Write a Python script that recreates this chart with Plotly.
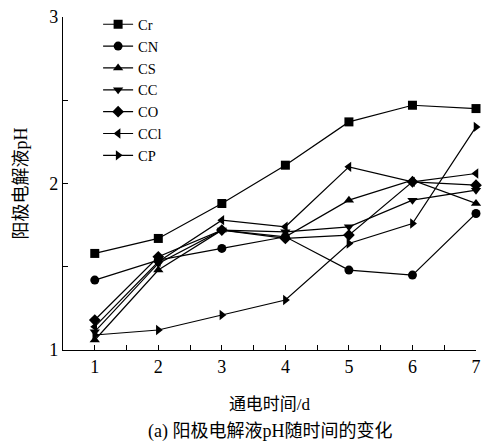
import plotly.graph_objects as go

days = [1, 2, 3, 4, 5, 6, 7]
series_names = ["Cr", "CN", "CS", "CC", "CO", "CCl", "CP"]
cr = [1.58, 1.67, 1.88, 2.11, 2.37, 2.47, 2.45]
cn = [1.42, 1.54, 1.61, 1.68, 1.48, 1.45, 1.82]
cs = [1.06, 1.48, 1.72, 1.68, 1.90, 2.02, 1.88]
cc = [1.11, 1.52, 1.72, 1.71, 1.74, 1.90, 1.96]
co = [1.18, 1.56, 1.72, 1.67, 1.69, 2.01, 1.99]
ccl = [1.14, 1.53, 1.78, 1.74, 2.10, 2.01, 2.06]
cp = [1.09, 1.12, 1.21, 1.30, 1.64, 1.76, 2.34]
values = [cr, cn, cs, cc, co, ccl, cp]
symbols = ["square", "circle", "triangle-up", "triangle-down", "diamond", "triangle-left", "triangle-right"]

x_ticks = [1, 2, 3, 4, 5, 6, 7]
y_ticks = [1, 2, 3]

FONT = "Liberation Serif, Times New Roman, Noto Sans CJK SC, serif"

fig = go.Figure()
for name, vals, sym in zip(series_names, values, symbols):
    fig.add_trace(go.Scatter(
        x=days, y=vals, name=name, mode="lines+markers",
        line=dict(color="black", width=1.2),
        marker=dict(symbol=sym, size=9, color="black"),
        cliponaxis=False,
    ))

fig.update_layout(
    width=485, height=445,
    margin=dict(l=63, r=4, t=17, b=95),
    plot_bgcolor="white", paper_bgcolor="white",
    font=dict(family=FONT, size=17, color="black"),
    showlegend=True,
    legend=dict(x=0.085, y=1.026, xanchor="left", yanchor="top",
                bgcolor="rgba(0,0,0,0)", font=dict(size=14.5, family=FONT),
                tracegroupgap=0, itemwidth=30),
    xaxis=dict(range=[0.5, 7.0], tickvals=x_ticks, ticktext=[str(v) for v in x_ticks],
               showline=True, linecolor="black", linewidth=1.2, showgrid=False,
               zeroline=False, ticks="inside", ticklen=5, tickcolor="black",
               tickfont=dict(size=18), ticklabeloverflow="allow",
               minor=dict(dtick=0.5, tick0=0.5, ticks="inside", ticklen=5, tickcolor="black", showgrid=False),
               title=dict(text="通电时间/d", font=dict(size=17), standoff=22)),
    yaxis=dict(range=[1, 3], tickvals=y_ticks, ticktext=[str(v) for v in y_ticks],
               showline=True, linecolor="black", linewidth=1.2, showgrid=False,
               zeroline=False, ticks="inside", ticklen=5, tickcolor="black",
               tickfont=dict(size=18),
               minor=dict(dtick=0.5, tick0=1, ticks="inside", ticklen=5, tickcolor="black", showgrid=False),
               title=dict(text="阳极电解液pH", font=dict(size=18), standoff=16)),
    annotations=[dict(text="(a) 阳极电解液pH随时间的变化", xref="paper", yref="paper",
                      x=0.5, y=-0.246, xanchor="center", yanchor="middle", showarrow=False,
                      font=dict(size=18, family=FONT))],
)

fig.write_html("out.html")
